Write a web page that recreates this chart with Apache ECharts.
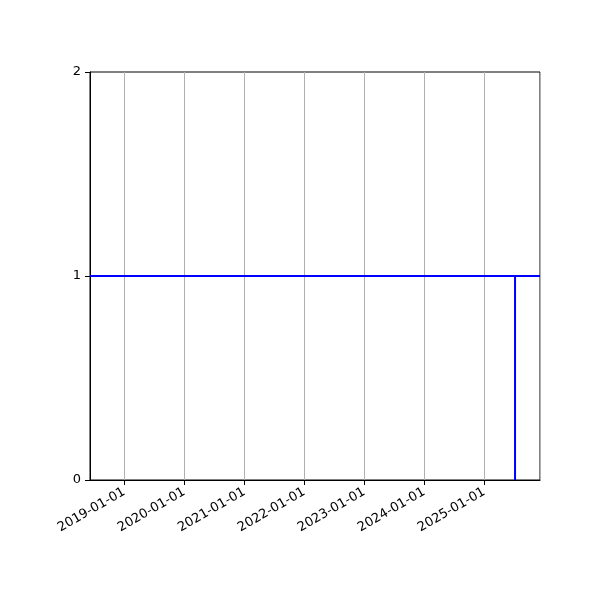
<!DOCTYPE html>
<html>
<head>
<meta charset="utf-8">
<script src="https://cdn.jsdelivr.net/npm/echarts@6/dist/echarts.min.js"></script>
<style>html,body{margin:0;padding:0;background:#fff}#c{width:600px;height:600px}</style>
</head>
<body>
<div id="c"></div>
<script>
const xMin = '2018-06-06';
const xMax = '2025-12-06';
const lineDates = ['2018-06-06', '2025-07-07', '2025-07-07', '2025-07-07', '2025-12-06'];
const lineValues = [1, 1, 0, 1, 1];
const yTicks = [0, 1, 2];

const chart = echarts.init(document.getElementById('c'), null, {renderer: 'canvas'});
const font = 'DejaVu Sans';
chart.setOption({
  animation: false,
  backgroundColor: '#fff',
  grid: {left: 90, right: 60, top: 72, bottom: 120, show: true, borderColor: '#000', borderWidth: 1, backgroundColor: 'transparent'},
  xAxis: {
    type: 'time',
    min: xMin, max: xMax,
    minInterval: 365 * 86400000,
    maxInterval: 366 * 86400000,
    axisLine: {show: true, onZero: false, lineStyle: {color: '#000', width: 1}},
    axisTick: {show: true, length: 5, lineStyle: {color: '#000'}},
    axisLabel: {
      rotate: 30, color: '#000', fontFamily: font, fontSize: 13, margin: 11,
      formatter: '{yyyy}-{MM}-{dd}', showMinLabel: false, showMaxLabel: false
    },
    splitLine: {show: true, lineStyle: {color: '#b0b0b0', width: 1}},
    minorTick: {show: false}
  },
  yAxis: {
    type: 'value', min: yTicks[0], max: yTicks[yTicks.length - 1], interval: 1,
    axisLine: {show: true, lineStyle: {color: '#000', width: 1}},
    axisTick: {show: true, length: 5, lineStyle: {color: '#000'}},
    axisLabel: {color: '#000', fontFamily: font, fontSize: 13, margin: 9},
    splitLine: {show: false}
  },
  series: [{
    type: 'line',
    data: lineDates.map((d, i) => [d, lineValues[i]]),
    showSymbol: false,
    symbol: 'none',
    lineStyle: {color: '#0000ff', width: 2},
    clip: true
  }]
});
</script>
</body>
</html>
